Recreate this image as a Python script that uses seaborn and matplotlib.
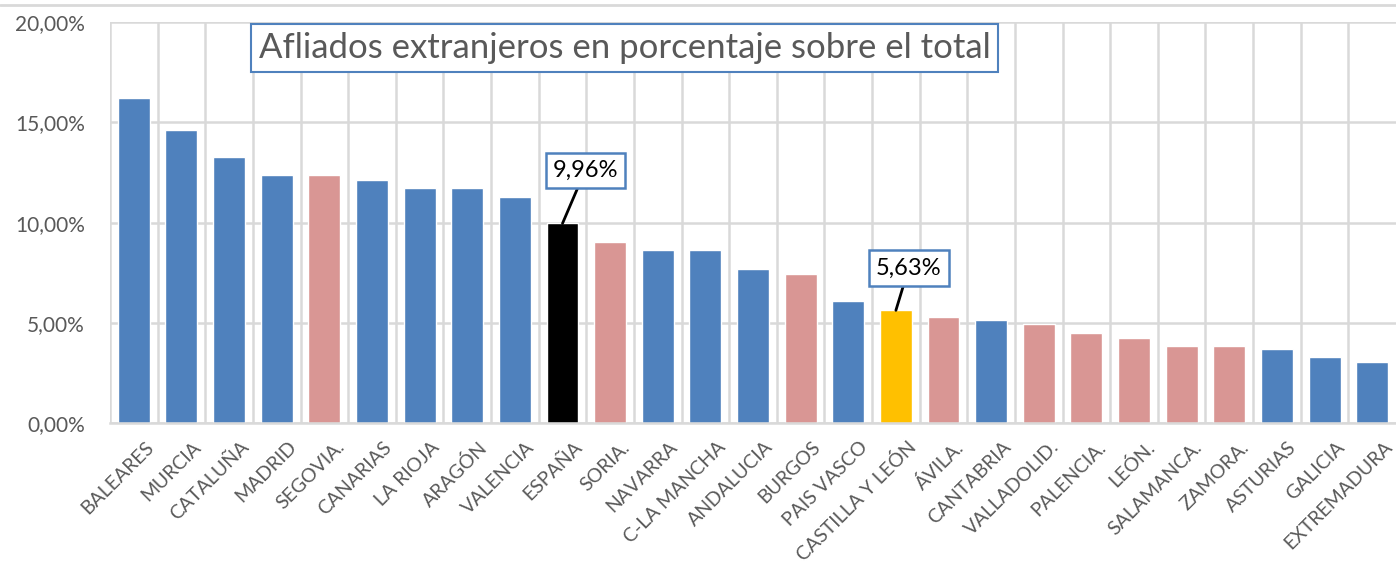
import matplotlib
matplotlib.use("Agg")
import matplotlib.pyplot as plt
import matplotlib.transforms as mtransforms
from matplotlib.lines import Line2D
from matplotlib.ticker import FuncFormatter, MultipleLocator
import numpy as np
import pandas as pd
import seaborn as sns

# Data
regiones = ["BALEARES", "MURCIA", "CATALUÑA", "MADRID", "SEGOVIA.", "CANARIAS",
            "LA RIOJA", "ARAGÓN", "VALENCIA", "ESPAÑA", "SORIA.", "NAVARRA",
            "C-LA MANCHA", "ANDALUCIA", "BURGOS", "PAIS VASCO", "CASTILLA Y LEÓN",
            "ÁVILA.", "CANTABRIA", "VALLADOLID.", "PALENCIA.", "LEÓN.",
            "SALAMANCA.", "ZAMORA.", "ASTURIAS", "GALICIA", "EXTREMADURA"]
porcentaje = [16.21, 14.61, 13.28, 12.36, 12.36, 12.11, 11.71, 11.71, 11.29, 9.96,
              9.03, 8.63, 8.63, 7.70, 7.44, 6.11, 5.63, 5.31, 5.16, 4.93, 4.51,
              4.24, 3.84, 3.84, 3.72, 3.32, 3.05]
tipo = ["ccaa", "ccaa", "ccaa", "ccaa", "prov", "ccaa", "ccaa", "ccaa", "ccaa", "esp",
        "prov", "ccaa", "ccaa", "ccaa", "prov", "ccaa", "cyl", "prov", "ccaa", "prov",
        "prov", "prov", "prov", "prov", "ccaa", "ccaa", "ccaa"]
colores_tipo = {"ccaa": "#4F81BD", "prov": "#D99694", "esp": "#000000", "cyl": "#FFC000"}
destacados = ["ESPAÑA", "CASTILLA Y LEÓN"]

df = pd.DataFrame({"region": regiones, "pct": porcentaje, "tipo": tipo})

sns.set_style("white")
plt.rcParams["font.family"] = ["Lato", "DejaVu Sans"]

fig = plt.figure(figsize=(13.96, 5.81), dpi=100)
ax = fig.add_axes([0.0788, 0.2714, 0.9212, 0.6907])

sns.barplot(data=df, x="region", y="pct", hue="region",
            palette=[colores_tipo[t] for t in tipo], legend=False,
            width=0.67, saturation=1, ax=ax, zorder=2)

ax.set_ylim(0, 20)
ax.set_xlim(-0.5, len(regiones) - 0.5)
ax.yaxis.set_major_locator(MultipleLocator(5))
ax.yaxis.set_major_formatter(FuncFormatter(lambda v, p: f"{v:.2f}".replace(".", ",") + "%"))
ax.set_xticks(np.arange(len(regiones)) - 0.5, minor=True)
ax.grid(True, which="major", axis="y", color="#D9D9D9", lw=1.8, zorder=0)
ax.grid(True, which="minor", axis="x", color="#D9D9D9", lw=1.8, zorder=0)
ax.set_axisbelow(True)
ax.tick_params(which="both", length=0)
ax.tick_params(axis="y", labelsize=15, labelcolor="#595959", pad=18)
ax.set_xlabel("")
ax.set_ylabel("")
for s in ["top", "right", "left"]:
    ax.spines[s].set_visible(False)
ax.spines["bottom"].set_color("#D9D9D9")
ax.spines["bottom"].set_linewidth(1.8)

ax.set_xticks(np.arange(len(regiones)))
ax.set_xticklabels(regiones, rotation=45, ha="right", rotation_mode="anchor",
                   fontsize=14, color="#595959")
off = mtransforms.ScaledTranslation(11 / 100, -10 / 100, fig.dpi_scale_trans)
for lab in ax.get_xticklabels():
    lab.set_transform(lab.get_transform() + off)

# Title box
ax.text(0.1155, 0.935, "Afliados extranjeros en porcentaje sobre el total",
        transform=ax.transAxes, fontsize=25, color="#595959", va="center", ha="left",
        bbox=dict(boxstyle="square,pad=0.22", fc="white", ec="#4F81BD", lw=1.5), zorder=5)

# Callouts
offsets = {"ESPAÑA": (0.48, 2.66), "CASTILLA Y LEÓN": (0.27, 2.11)}
for name in destacados:
    i = regiones.index(name)
    v = porcentaje[i]
    dx, dy = offsets[name]
    ax.annotate(f"{v:.2f}".replace(".", ",") + "%", xy=(i, v), xytext=(i + dx, v + dy),
                fontsize=17, color="black", ha="center", va="center",
                bbox=dict(boxstyle="square,pad=0.3", fc="white", ec="#4F81BD", lw=1.8),
                arrowprops=dict(arrowstyle="-", color="black", lw=2, shrinkA=0, shrinkB=0),
                zorder=6)

fig.add_artist(Line2D([0, 1], [0.991, 0.991], transform=fig.transFigure,
                      color="#D9D9D9", lw=2))

plt.savefig("out.png", dpi=100)
